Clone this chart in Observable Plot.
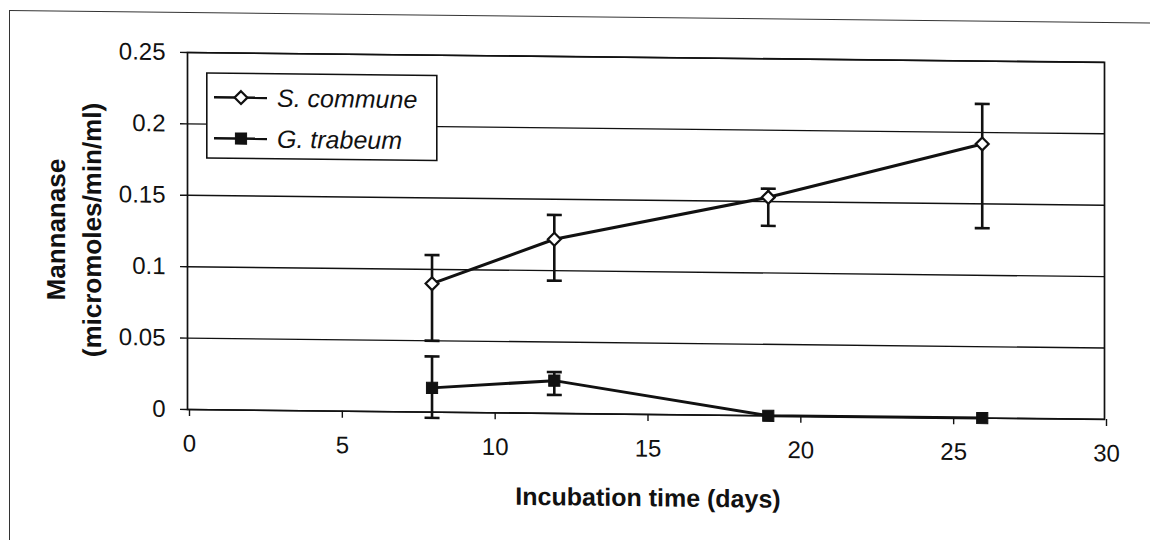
<!DOCTYPE html>
<html>
<head>
<meta charset="utf-8">
<script src="https://cdn.jsdelivr.net/npm/d3@7"></script>
<script src="https://cdn.jsdelivr.net/npm/@observablehq/plot@0.6"></script>
<style>
  html, body { margin: 0; padding: 0; background: #fff; overflow: hidden; }
  #wrap { position: relative; width: 1150px; height: 540px; transform: skewY(0.62deg); transform-origin: 187px 0; }
  #frame { position: absolute; left: 9px; top: 12px; width: 1300px; height: 700px; border-top: 1.5px solid #333; border-left: 1.5px solid #333; pointer-events: none; }
  #legend { position: absolute; left: 206px; top: 72px; }
</style>
</head>
<body>
<div id="wrap">
  <div id="chart"></div>
  <div id="frame"></div>
  <div id="legend"></div>
</div>
<script>
// ---- data ----
const days = [8, 12, 19, 26];
const seriesNames = ["S. commune", "G. trabeum"];
const sCommune      = [0.090, 0.122, 0.153, 0.192];
const sCommuneUpper = [0.110, 0.139, 0.159, 0.220];
const sCommuneLower = [0.050, 0.093, 0.133, 0.133];
const gTrabeum      = [0.017, 0.023, 0.000, 0.000];
const gTrabeumUpper = [0.039, 0.029, 0.000, 0.000];
const gTrabeumLower = [-0.004, 0.013, 0.000, 0.000];
const xTicks = [0, 5, 10, 15, 20, 25, 30];
const xTickLabels = ["0", "5", "10", "15", "20", "25", "30"];
const yTicks = [0, 0.05, 0.1, 0.15, 0.2, 0.25];
const yTickLabels = ["0", "0.05", "0.1", "0.15", "0.2", "0.25"];
const xTitle = "Incubation time (days)";
const yTitle = "Mannanase\n(micromoles/min/ml)";

// ---- tables built from the arrays ----
const seriesValues = [sCommune, gTrabeum];
const seriesUpper = [sCommuneUpper, gTrabeumUpper];
const seriesLower = [sCommuneLower, gTrabeumLower];
const rows = seriesNames.flatMap((name, s) => days.map((day, i) => ({
  series: name, day, value: seriesValues[s][i], upper: seriesUpper[s][i], lower: seriesLower[s][i]
})));
const errRows = rows.filter(d => d.upper !== d.lower);
const capRows = errRows.flatMap(d => [{day: d.day, v: d.upper}, {day: d.day, v: d.lower}]);

const capSymbol = {
  draw(context, size) {
    const w = Math.sqrt(size / Math.PI);
    context.moveTo(-w, 0);
    context.lineTo(w, 0);
  }
};

const ink = "#111";
const chart = Plot.plot({
  width: 1150,
  height: 540,
  marginLeft: 187,
  marginRight: 46,
  marginTop: 52,
  marginBottom: 131,
  style: { fontFamily: "'Liberation Sans', Arial, sans-serif", fontSize: "24px", color: ink, background: "transparent", overflow: "visible" },
  x: { domain: [0, 30] },
  y: { domain: [0, 0.25] },
  marks: [
    Plot.ruleY(yTicks, { stroke: ink, strokeWidth: 1.4 }),
    Plot.frame({ stroke: ink, strokeWidth: 1.7 }),
    Plot.axisY({ ticks: yTicks, tickFormat: d => yTickLabels[yTicks.indexOf(d)], tickSize: 7, tickPadding: 15, label: null, stroke: ink, strokeWidth: 1.4 }),
    Plot.axisX({ ticks: xTicks, tickFormat: d => xTickLabels[xTicks.indexOf(d)], tickSize: 7, tickPadding: 18, label: null, stroke: ink, strokeWidth: 1.4, dx: 2 }),
    Plot.ruleX(errRows, { x: "day", y1: "lower", y2: "upper", stroke: ink, strokeWidth: 2.6 }),
    Plot.dot(capRows, { x: "day", y: "v", symbol: capSymbol, r: 7.5, stroke: ink, strokeWidth: 2.6 }),
    Plot.line(rows, { x: "day", y: "value", z: "series", stroke: ink, strokeWidth: 3 }),
    Plot.dot(rows.filter(d => d.series === seriesNames[0]), { x: "day", y: "value", symbol: "diamond2", r: 5.8, fill: "white", stroke: ink, strokeWidth: 2.2 }),
    Plot.dot(rows.filter(d => d.series === seriesNames[1]), { x: "day", y: "value", symbol: "square", r: 6.3, fill: ink, stroke: ink, strokeWidth: 1 }),
    Plot.text([yTitle], { frameAnchor: "left", textAnchor: "middle", lineAnchor: "middle", rotate: -90, dx: -116, fontSize: 26, fontWeight: "bold", lineHeight: 1.38, fill: ink }),
    Plot.text([xTitle], { frameAnchor: "bottom", lineAnchor: "top", dy: 74, dx: 2, fontSize: 25, fontWeight: "bold", fill: ink })
  ]
});
document.getElementById("chart").appendChild(chart);

// ---- legend ----
const lw = 230, lh = 85;
const leg = d3.select("#legend").append("svg")
  .attr("width", lw + 2).attr("height", lh + 2)
  .style("overflow", "visible");
leg.append("rect").attr("x", 0.8).attr("y", 0.8).attr("width", lw).attr("height", lh)
  .attr("fill", "white").attr("stroke", ink).attr("stroke-width", 1.6);
const entryY = [25, 66];
seriesNames.forEach((name, i) => {
  const g = leg.append("g").attr("transform", `translate(0,${entryY[i]})`);
  g.append("line").attr("x1", 8).attr("x2", 61).attr("y1", 0).attr("y2", 0)
    .attr("stroke", ink).attr("stroke-width", 2.6);
  if (i === 0) {
    g.append("path").attr("transform", "translate(35,0)")
      .attr("d", d3.symbol(d3.symbolDiamond2, Math.PI * 5.8 * 5.8)())
      .attr("fill", "white").attr("stroke", ink).attr("stroke-width", 2.2);
  } else {
    g.append("path").attr("transform", "translate(35,0)")
      .attr("d", d3.symbol(d3.symbolSquare, Math.PI * 6.3 * 6.3)())
      .attr("fill", ink).attr("stroke", ink);
  }
  g.append("text").attr("x", 71).attr("y", 0).attr("dy", "0.35em")
    .attr("font-family", "'Liberation Sans', Arial, sans-serif")
    .attr("font-size", 25).attr("font-style", "italic").attr("fill", ink)
    .text(name);
});
</script>
</body>
</html>
